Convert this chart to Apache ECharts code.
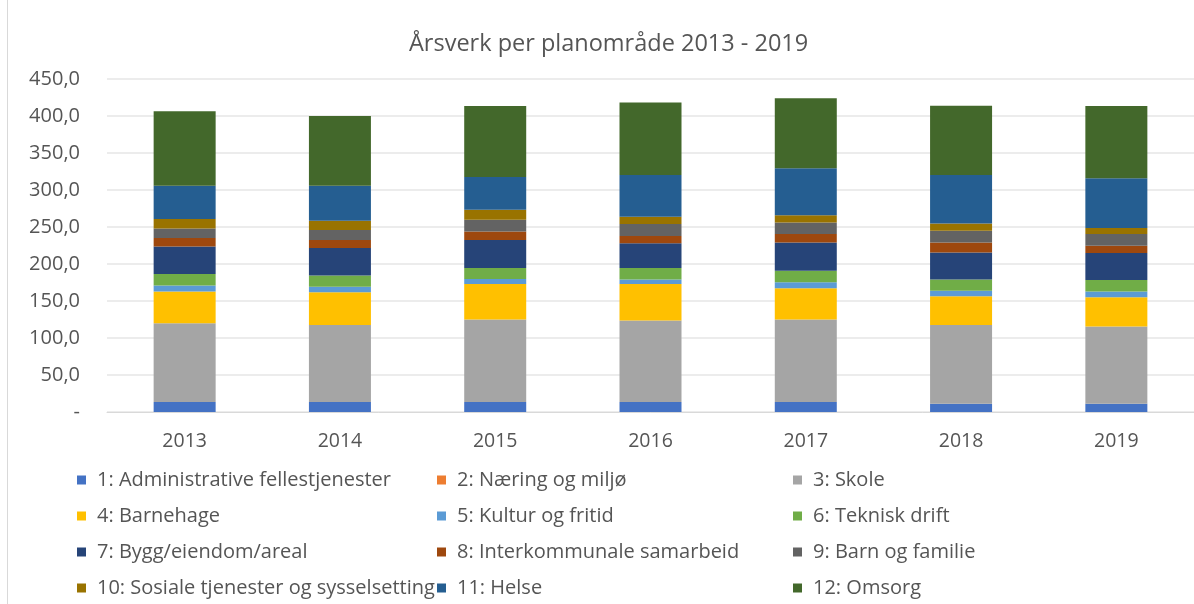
<!DOCTYPE html>
<html>
<head>
<meta charset="utf-8">
<script src="https://cdn.jsdelivr.net/npm/echarts@6/dist/echarts.min.js"></script>
<style>
  html, body { margin: 0; padding: 0; background: #fff; }
  #chart { width: 1194px; height: 604px; }
</style>
</head>
<body>
<div id="chart"></div>
<script>
const years = ["2013", "2014", "2015", "2016", "2017", "2018", "2019"];

const names = [
  "1: Administrative fellestjenester",
  "2: Næring og miljø",
  "3: Skole",
  "4: Barnehage",
  "5: Kultur og fritid",
  "6: Teknisk drift",
  "7: Bygg/eiendom/areal",
  "8: Interkommunale samarbeid",
  "9: Barn og familie",
  "10: Sosiale tjenester og sysselsetting",
  "11: Helse",
  "12: Omsorg"
];

const admin = [13.5, 13.5, 13.5, 13.5, 13.5, 11.2, 11.2];
const naering = [0, 0, 0, 0, 0, 0, 0];
const skole = [106.5, 104.2, 111.4, 110.1, 111.4, 106.5, 104.3];
const barnehage = [42.7, 44.1, 48.1, 49.4, 42.3, 38.7, 39.5];
const kultur = [8.1, 7.6, 6.8, 5.9, 8.1, 7.6, 7.7];
const teknisk = [15.7, 14.9, 14.8, 15.7, 15.7, 14.9, 15.7];
const bygg = [37.3, 37.3, 37.7, 33.3, 38.2, 36.8, 36.4];
const interkommunal = [11.2, 10.7, 11.7, 9.8, 11.3, 13.5, 9.9];
const barnFamilie = [13.1, 13.5, 15.8, 16.2, 15.7, 15.7, 15.8];
const sosiale = [12.6, 12.6, 13.4, 9.9, 9.8, 9.9, 8.0];
const helse = [44.9, 47.2, 44.5, 56.6, 63.4, 65.6, 67.4];
const omsorg = [100.7, 94.4, 95.7, 97.7, 94.5, 93.5, 97.5];

const values = [admin, naering, skole, barnehage, kultur, teknisk, bygg,
  interkommunal, barnFamilie, sosiale, helse, omsorg];

const colors = ["#4472C4", "#ED7D31", "#A5A5A5", "#FFC000", "#5B9BD5", "#70AD47",
  "#264478", "#9E480E", "#636363", "#997300", "#255E91", "#43682B"];

const font = "'Open Sans', 'Noto Sans', sans-serif";
const textColor = "#555555";

const myChart = echarts.init(document.getElementById("chart"));

// legend is three vertical columns
const legendCol = (idx, left) => ({
  orient: "vertical",
  left: left,
  top: 470,
  padding: 0,
  itemGap: 16,
  itemWidth: 9,
  itemHeight: 9,
  icon: "rect",
  data: idx.map(i => names[i]),
  textStyle: { color: textColor, fontSize: 20, lineHeight: 20, fontFamily: font, padding: [0, 0, 0, 6] }
});

const option = {
  color: colors,
  animation: false,
  title: {
    left: 404,
    top: 27,
    text: "Årsverk per planområde 2013 - 2019",
    textStyle: { fontSize: 23.5, fontWeight: "normal", color: textColor, fontFamily: font }
  },
  legend: [
    legendCol([0, 3, 6, 9], 77),
    legendCol([1, 4, 7, 10], 437),
    legendCol([2, 5, 8, 11], 793)
  ],
  graphic: [{
    type: "line",
    shape: { x1: 7.5, y1: 0, x2: 7.5, y2: 604 },
    style: { stroke: "#D9D9D9", lineWidth: 1 }
  }],
  grid: { left: 107, right: 0, top: 79, bottom: 192 },
  xAxis: {
    type: "category",
    data: years,
    axisTick: { show: false },
    axisLine: { lineStyle: { color: "#D9D9D9" } },
    axisLabel: { color: textColor, fontSize: 19.5, fontFamily: font, margin: 19 }
  },
  yAxis: {
    type: "value",
    min: 0,
    max: 450,
    interval: 50,
    axisLine: { show: false },
    axisTick: { show: false },
    splitLine: { lineStyle: { color: "#E6E6E6", width: 1.5 } },
    axisLabel: {
      color: textColor,
      fontSize: 20,
      fontFamily: font,
      margin: 27,
      formatter: v => v === 0 ? "-" : v.toFixed(1).replace(".", ",")
    }
  },
  series: values.map((d, i) => ({
    name: names[i],
    type: "bar",
    stack: "total",
    barWidth: 62,
    data: d
  }))
};
myChart.setOption(option);
</script>
</body>
</html>
